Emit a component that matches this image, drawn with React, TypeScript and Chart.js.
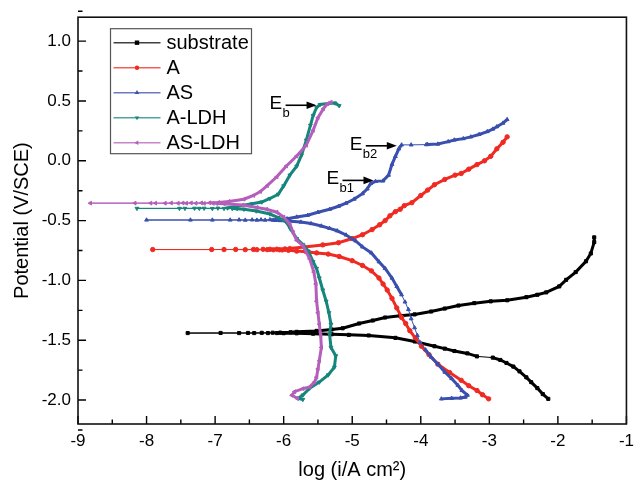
import React, { useEffect, useRef } from 'react';
import { Chart, registerables } from 'chart.js';

Chart.register(...registerables);

const FONT = '"Liberation Sans", Arial, Helvetica, sans-serif';

// axis ticks
const xTicks = [-9, -8, -7, -6, -5, -4, -3, -2, -1];
const yTicks = [-2.0, -1.5, -1.0, -0.5, 0.0, 0.5, 1.0];
const xRange = [-9, -1];
const yRange = [-2.2, 1.2];

const seriesNames = ['substrate', 'A', 'AS', 'A-LDH', 'AS-LDH'];

// [log(i), potential V/SCE] in scan order (cathodic -> Ecorr -> anodic)
const substrate: [number, number][] = [
  [-2.14, -1.99], [-2.22, -1.95], [-2.30, -1.90], [-2.39, -1.85], [-2.46, -1.81], [-2.56, -1.76],
  [-2.65, -1.72], [-2.75, -1.69], [-2.84, -1.665], [-2.95, -1.645], [-3.18, -1.635], [-3.32, -1.61],
  [-3.51, -1.59], [-3.65, -1.57], [-3.80, -1.55], [-4.09, -1.51], [-4.37, -1.48], [-4.76, -1.46],
  [-5.05, -1.455], [-5.30, -1.45], [-5.57, -1.445], [-5.81, -1.442], [-6.00, -1.441],
  [-6.10, -1.440], [-6.23, -1.440], [-6.43, -1.440], [-6.65, -1.440], [-7.40, -1.440],
  [-6.92, -1.439], [-6.52, -1.439], [-6.32, -1.438], [-6.16, -1.437], [-6.05, -1.436],
  [-5.90, -1.433], [-5.81, -1.430], [-5.52, -1.422], [-5.30, -1.41], [-5.14, -1.40], [-4.90, -1.36],
  [-4.70, -1.335], [-4.52, -1.31], [-4.30, -1.295], [-4.09, -1.284], [-3.85, -1.26], [-3.65, -1.235],
  [-3.45, -1.21], [-3.22, -1.19], [-2.98, -1.175], [-2.74, -1.166], [-2.46, -1.14], [-2.30, -1.12],
  [-2.17, -1.10], [-1.98, -1.05], [-1.88, -0.995], [-1.74, -0.93], [-1.59, -0.84], [-1.52, -0.775],
  [-1.47, -0.68], [-1.47, -0.64],
];

const sampleA: [number, number][] = [
  [-3.01, -1.99], [-3.10, -1.955], [-3.18, -1.92], [-3.30, -1.88], [-3.41, -1.835], [-3.58, -1.77],
  [-3.75, -1.70], [-3.88, -1.62], [-3.99, -1.55], [-4.08, -1.48], [-4.16, -1.42], [-4.22, -1.36],
  [-4.28, -1.31], [-4.35, -1.23], [-4.42, -1.15], [-4.49, -1.08], [-4.55, -1.03], [-4.61, -0.98],
  [-4.72, -0.92], [-4.85, -0.875], [-5.00, -0.835], [-5.19, -0.80], [-5.35, -0.78], [-5.52, -0.77],
  [-5.67, -0.76], [-5.81, -0.755], [-5.93, -0.748], [-6.02, -0.745],
  [-6.06, -0.744], [-6.15, -0.744], [-6.24, -0.743], [-6.39, -0.743], [-6.56, -0.743], [-6.87, -0.742],
  [-7.91, -0.742], [-7.05, -0.742], [-6.70, -0.741], [-6.44, -0.741], [-6.30, -0.740], [-6.20, -0.740],
  [-6.10, -0.739],
  [-5.98, -0.737], [-5.91, -0.734], [-5.70, -0.72], [-5.43, -0.703], [-5.20, -0.685], [-5.00, -0.65],
  [-4.85, -0.618], [-4.71, -0.575], [-4.60, -0.535], [-4.52, -0.50], [-4.45, -0.46], [-4.37, -0.425],
  [-4.30, -0.405], [-4.24, -0.375], [-4.13, -0.35], [-4.00, -0.29], [-3.90, -0.245], [-3.80, -0.20],
  [-3.65, -0.156], [-3.50, -0.12], [-3.41, -0.106], [-3.30, -0.07], [-3.18, -0.032], [-3.07, 0.0],
  [-2.98, 0.037], [-2.89, 0.10], [-2.80, 0.155], [-2.74, 0.20],
];

const sampleAS: [number, number][] = [
  [-3.70, -1.99], [-3.55, -1.985], [-3.42, -1.982], [-3.35, -1.975], [-3.32, -1.959], [-3.40, -1.92],
  [-3.46, -1.876], [-3.55, -1.82], [-3.65, -1.766], [-3.75, -1.70], [-3.85, -1.64], [-3.93, -1.58],
  [-4.01, -1.519], [-4.05, -1.46], [-4.09, -1.395], [-4.14, -1.32], [-4.18, -1.243], [-4.23, -1.18],
  [-4.28, -1.12], [-4.35, -1.05], [-4.42, -0.98], [-4.52, -0.90], [-4.61, -0.844], [-4.72, -0.77],
  [-4.85, -0.72], [-4.95, -0.67], [-5.09, -0.62], [-5.22, -0.585], [-5.33, -0.565], [-5.45, -0.545],
  [-5.60, -0.525], [-5.75, -0.512], [-5.90, -0.505], [-6.05, -0.50], [-6.12, -0.498],
  [-6.15, -0.497], [-6.27, -0.496], [-6.39, -0.496], [-6.56, -0.496], [-6.78, -0.495], [-7.36, -0.495],
  [-8.00, -0.495], [-7.04, -0.495], [-6.65, -0.494], [-6.46, -0.494], [-6.33, -0.493], [-6.20, -0.492],
  [-6.08, -0.49], [-5.95, -0.485], [-5.81, -0.47], [-5.65, -0.455], [-5.50, -0.43], [-5.33, -0.405],
  [-5.20, -0.38], [-5.09, -0.355], [-4.97, -0.32], [-4.85, -0.275], [-4.78, -0.235], [-4.73, -0.19],
  [-4.66, -0.172], [-4.55, -0.168], [-4.47, -0.12], [-4.42, -0.03], [-4.37, 0.037], [-4.32, 0.10],
  [-4.28, 0.133], [-4.14, 0.133], [-3.92, 0.135], [-3.90, 0.136],
  [-3.75, 0.14], [-3.60, 0.16], [-3.51, 0.174], [-3.38, 0.185], [-3.27, 0.20], [-3.15, 0.22],
  [-3.03, 0.244], [-2.95, 0.265], [-2.89, 0.285], [-2.80, 0.315], [-2.74, 0.345],
];

const sampleALDH: [number, number][] = [
  [-5.72, -1.995], [-5.79, -1.985], [-5.72, -1.958], [-5.62, -1.90], [-5.48, -1.85], [-5.35, -1.79],
  [-5.26, -1.725], [-5.24, -1.63], [-5.31, -1.56], [-5.33, -1.45], [-5.31, -1.367], [-5.34, -1.27],
  [-5.38, -1.174], [-5.43, -1.08], [-5.48, -0.98], [-5.52, -0.90], [-5.57, -0.844], [-5.64, -0.755],
  [-5.72, -0.70], [-5.81, -0.65], [-5.90, -0.57], [-5.96, -0.514], [-6.08, -0.475], [-6.20, -0.445],
  [-6.40, -0.42], [-6.58, -0.405], [-6.68, -0.400],
  [-6.75, -0.399], [-6.87, -0.399], [-7.04, -0.399], [-7.23, -0.398], [-7.44, -0.398], [-8.14, -0.398],
  [-7.52, -0.398], [-7.30, -0.397], [-7.16, -0.397], [-6.96, -0.396], [-6.82, -0.395],
  [-6.68, -0.38], [-6.46, -0.36], [-6.32, -0.345], [-6.20, -0.315], [-6.08, -0.28], [-6.00, -0.21],
  [-5.91, -0.12], [-5.81, -0.045], [-5.74, 0.047], [-5.67, 0.172], [-5.61, 0.296], [-5.57, 0.378],
  [-5.52, 0.445], [-5.47, 0.47], [-5.35, 0.478], [-5.25, 0.482], [-5.19, 0.46],
];

const sampleASLDH: [number, number][] = [
  [-5.80, -1.985], [-5.88, -1.96], [-5.84, -1.93], [-5.72, -1.905], [-5.62, -1.89], [-5.55, -1.85],
  [-5.52, -1.808], [-5.50, -1.74], [-5.48, -1.67], [-5.45, -1.56], [-5.46, -1.46], [-5.48, -1.367],
  [-5.50, -1.27], [-5.52, -1.174], [-5.53, -1.03], [-5.56, -0.93], [-5.62, -0.82], [-5.72, -0.71],
  [-5.81, -0.665], [-5.86, -0.60], [-5.91, -0.528], [-6.00, -0.47], [-6.10, -0.43], [-6.25, -0.405],
  [-6.39, -0.39], [-6.60, -0.37], [-6.87, -0.36], [-6.98, -0.357],
  [-7.03, -0.356], [-7.16, -0.356], [-7.28, -0.355], [-7.42, -0.355], [-7.54, -0.355], [-7.73, -0.355],
  [-7.94, -0.354], [-8.82, -0.354], [-8.17, -0.354], [-7.87, -0.354], [-7.64, -0.353], [-7.47, -0.353],
  [-7.35, -0.352], [-7.20, -0.352], [-7.08, -0.351],
  [-6.95, -0.348], [-6.80, -0.34], [-6.58, -0.321], [-6.44, -0.29], [-6.34, -0.257], [-6.24, -0.208],
  [-6.10, -0.134], [-5.96, -0.043], [-5.81, 0.04], [-5.67, 0.13], [-5.57, 0.254], [-5.50, 0.36],
  [-5.42, 0.436], [-5.36, 0.477], [-5.31, 0.49],
];

const seriesData = [substrate, sampleA, sampleAS, sampleALDH, sampleASLDH];

// styles
const colors = ['#000000', '#f02a22', '#3a4fae', '#16857c', '#b45fba'];
const pointStyles = ['rect', 'circle', 'triangle', 'triangle', 'triangle'];
const pointRotations = [0, 0, 0, 180, 270];
// log(i) ranges where the measured points are sparse (thin connecting line)
const thinRanges: [number, number][][] = [
  [[-9, -6.04], [-3.2, -2.94]],
  [[-9, -6.05]],
  [[-9, -6.1], [-4.29, -3.89]],
  [[-9, -6.7]],
  [[-9, -6.97]],
];

// breakdown-potential annotations (arrow tip in data coordinates)
const annoSub = ['b', 'b2', 'b1'];
const annoLogI = [-5.52, -4.35, -4.69];
const annoPotential = [0.464, 0.125, -0.164];

function inThin(idx: number, a: number, b: number) {
  return thinRanges[idx].some(([lo, hi]) => a >= lo && a <= hi && b >= lo && b <= hi);
}

function drawMarker(ctx: CanvasRenderingContext2D, style: string, rotDeg: number, x: number, y: number, r: number) {
  ctx.beginPath();
  if (style === 'rect') {
    ctx.rect(x - r, y - r, 2 * r, 2 * r);
  } else if (style === 'circle') {
    ctx.arc(x, y, r, 0, Math.PI * 2);
  } else {
    const rad = (rotDeg * Math.PI) / 180;
    for (let k = 0; k < 3; k++) {
      const a = rad + (k * 2 * Math.PI) / 3;
      const px = x + Math.sin(a) * r * 1.2;
      const py = y - Math.cos(a) * r * 1.2;
      if (k === 0) ctx.moveTo(px, py);
      else ctx.lineTo(px, py);
    }
    ctx.closePath();
  }
  ctx.fill();
}

const decorPlugin = {
  id: 'decor',
  afterDraw(chart: any) {
    const { ctx, chartArea: a, scales } = chart;
    const xs = scales.x;
    const ys = scales.y;
    ctx.save();
    // inward ticks
    ctx.strokeStyle = '#000';
    ctx.lineWidth = 1.4;
    ctx.beginPath();
    xTicks.forEach((v, i) => {
      const px = xs.getPixelForValue(v);
      ctx.moveTo(px, a.bottom);
      ctx.lineTo(px, a.bottom - 8);
      if (i < xTicks.length - 1) {
        const pm = xs.getPixelForValue((v + xTicks[i + 1]) / 2);
        ctx.moveTo(pm, a.bottom);
        ctx.lineTo(pm, a.bottom - 4.5);
      }
    });
    const yMinor = [yTicks[0] - 0.25, ...yTicks.map((v) => v + 0.25)];
    yTicks.forEach((v) => {
      const py = ys.getPixelForValue(v);
      ctx.moveTo(a.left, py);
      ctx.lineTo(a.left + 8, py);
    });
    yMinor.forEach((v) => {
      const py = ys.getPixelForValue(v);
      ctx.moveTo(a.left, py);
      ctx.lineTo(a.left + 4.5, py);
    });
    ctx.stroke();
    // frame
    ctx.lineWidth = 1.6;
    ctx.strokeStyle = '#111';
    ctx.strokeRect(a.left, a.top, a.right - a.left, a.bottom - a.top);

    // legend
    const lx = a.left + 32.5;
    const ly = a.top + 11.5;
    ctx.lineWidth = 1.2;
    ctx.strokeStyle = '#555';
    ctx.strokeRect(lx, ly, 141, 125);
    ctx.font = `20px ${FONT}`;
    ctx.textBaseline = 'middle';
    ctx.textAlign = 'left';
    seriesNames.forEach((name, i) => {
      const ry = ly + 14 + i * 25;
      ctx.strokeStyle = colors[i];
      ctx.globalAlpha = 0.75;
      ctx.lineWidth = 1.5;
      ctx.beginPath();
      ctx.moveTo(lx + 3, ry);
      ctx.lineTo(lx + 50, ry);
      ctx.stroke();
      ctx.globalAlpha = 1;
      ctx.fillStyle = colors[i];
      drawMarker(ctx, pointStyles[i], pointRotations[i], lx + 26.5, ry, 2.2);
      ctx.fillStyle = '#000';
      ctx.fillText(name, lx + 56, ry + 1);
    });

    // annotations
    annoSub.forEach((sub, i) => {
      const tx = xs.getPixelForValue(annoLogI[i]);
      const ty = ys.getPixelForValue(annoPotential[i]);
      ctx.fillStyle = '#000';
      ctx.strokeStyle = '#000';
      ctx.font = `19px ${FONT}`;
      ctx.textBaseline = 'alphabetic';
      ctx.fillText('E', tx - 47, ty + 4);
      ctx.font = `13px ${FONT}`;
      ctx.fillText(sub, tx - 34, ty + 12);
      ctx.lineWidth = 1.6;
      ctx.beginPath();
      ctx.moveTo(tx - 31, ty);
      ctx.lineTo(tx - 8, ty);
      ctx.stroke();
      ctx.beginPath();
      ctx.moveTo(tx, ty);
      ctx.lineTo(tx - 10, ty - 3.8);
      ctx.lineTo(tx - 10, ty + 3.8);
      ctx.closePath();
      ctx.fill();
    });
    ctx.restore();
  },
};

export default function App() {
  const ref = useRef<HTMLCanvasElement | null>(null);
  useEffect(() => {
    if (!ref.current) return;
    const datasets = seriesData.map((pts, i) => ({
      label: seriesNames[i],
      data: pts.map(([x, y]) => ({ x, y })),
      showLine: true,
      borderColor: colors[i],
      backgroundColor: colors[i],
      pointBackgroundColor: colors[i],
      pointBorderColor: colors[i],
      pointStyle: pointStyles[i],
      rotation: pointRotations[i],
      pointRadius: 2.2,
      pointBorderWidth: 1,
      borderWidth: 3,
      order: seriesNames.length - i,
      segment: {
        borderWidth: (c: any) => {
          const a = pts[c.p0DataIndex][0];
          const b = pts[c.p1DataIndex][0];
          return inThin(i, a, b) ? 1 : 3;
        },
      },
    }));
    const chart = new Chart(ref.current, {
      type: 'scatter',
      data: { datasets },
      plugins: [decorPlugin],
      options: {
        animation: false,
        responsive: false,
        devicePixelRatio: 1,
        events: [],
        layout: { padding: { left: 0, right: 7, top: 13, bottom: 0 } },
        plugins: { legend: { display: false }, tooltip: { enabled: false } },
        scales: {
          x: {
            type: 'linear',
            min: xRange[0],
            max: xRange[1],
            afterFit: (s: any) => { s.height = 62; },
            afterBuildTicks: (s: any) => { s.ticks = xTicks.map((v) => ({ value: v })); },
            grid: { display: false, drawTicks: false },
            border: { display: false },
            ticks: {
              color: '#000',
              font: { family: FONT, size: 17 },
              padding: 7,
              maxRotation: 0,
              callback: (v: any) => String(v),
            },
            title: {
              display: true,
              text: 'log (i/A cm²)',
              color: '#000',
              font: { family: FONT, size: 20 },
              padding: { top: 0, bottom: 4 },
            },
          },
          y: {
            type: 'linear',
            min: yRange[0],
            max: yRange[1],
            afterFit: (s: any) => { s.width = 78; },
            afterBuildTicks: (s: any) => { s.ticks = yTicks.map((v) => ({ value: v })); },
            grid: { display: false, drawTicks: false },
            border: { display: false },
            ticks: {
              color: '#000',
              font: { family: FONT, size: 17 },
              padding: 7,
              callback: (v: any) => Number(v).toFixed(1),
            },
            title: {
              display: true,
              text: 'Potential (V/SCE)',
              color: '#000',
              font: { family: FONT, size: 20 },
              padding: { top: 10, bottom: 0 },
            },
          },
        },
      },
    });
    return () => chart.destroy();
  }, []);
  return (
    <div style={{ position: 'absolute', left: 0, top: 0, width: 641, height: 486, background: '#fff' }}>
      <canvas ref={ref} width={641} height={486} style={{ display: 'block', width: 641, height: 486 }} />
    </div>
  );
}
